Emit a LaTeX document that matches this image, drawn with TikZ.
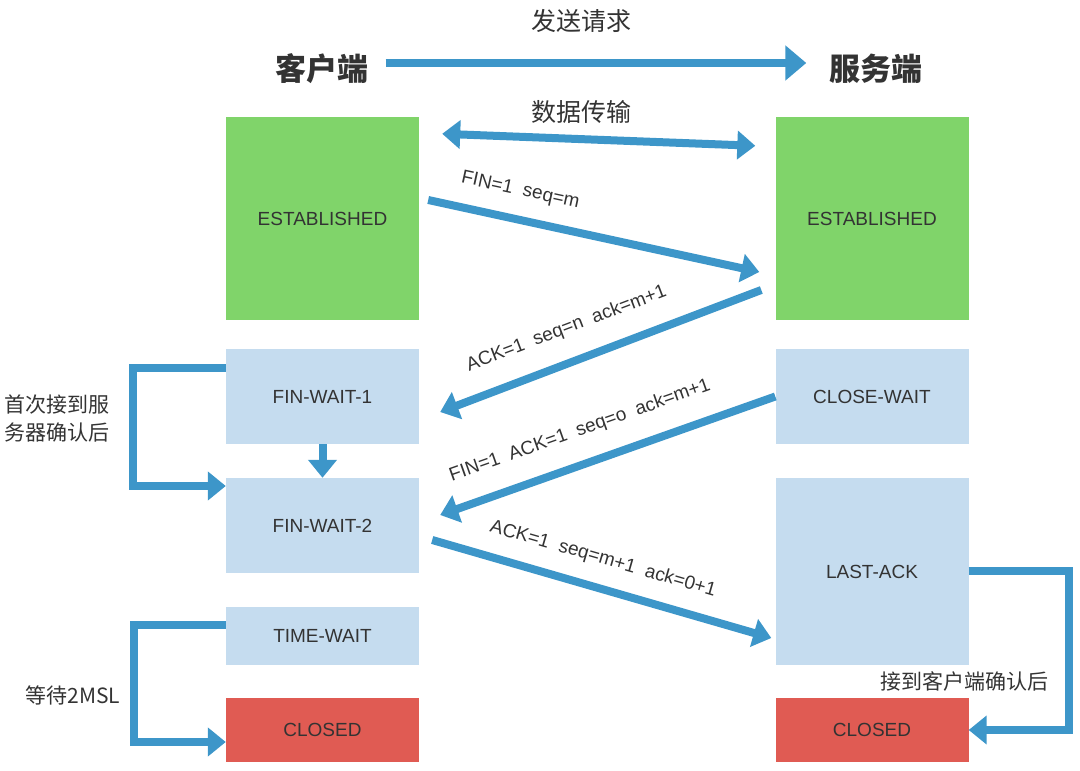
\documentclass[tikz,border=0pt]{standalone}
\usepackage{fontspec}
\setmainfont{Liberation Sans}
\newfontfamily\cjk{Noto Sans CJK SC}
\usepackage{tikz}
\usetikzlibrary{arrows.meta}
\definecolor{flowblue}{RGB}{61,150,201}
\definecolor{estgreen}{RGB}{128,212,106}
\definecolor{waitblue}{RGB}{197,220,239}
\definecolor{closedred}{RGB}{224,91,83}
\definecolor{labelgray}{RGB}{51,51,51}

\begin{document}
\begin{tikzpicture}[x=1pt, y=1pt,
    >={Triangle[width=28pt,length=18pt]},
    state/.style={minimum width=193pt, inner sep=0pt, text=labelgray, font=\fontsize{19}{22}\selectfont},
    flow/.style={draw=flowblue, line width=8pt, ->},
    msg/.style={sloped, inner sep=2pt, text=labelgray, font=\fontsize{19}{22}\selectfont},
    side/.style={inner sep=0pt, text=labelgray, font=\cjk\fontsize{21}{28}\selectfont}]
    \useasboundingbox (0,0) rectangle (1080,771);

    % Headers
    \node[inner sep=0pt, text=labelgray, font=\cjk\bfseries\fontsize{31}{34}\selectfont] (client) at (322,702) {客户端};
    \node[inner sep=0pt, text=labelgray, font=\cjk\bfseries\fontsize{31}{34}\selectfont] (server) at (876,702) {服务端};
    \draw[flow, -{Triangle[width=34pt,length=21pt]}] ([shift={(17,6)}]client.east) -- ([shift={(-23,6)}]server.west);
    \node[side, font=\cjk\fontsize{25}{28}\selectfont] (request) at (581,750) {发送请求};

    % States
    \node[state, fill=estgreen, minimum height=203pt] (cEst) at (322.5,552.5) {ESTABLISHED};
    \node[state, fill=estgreen, minimum height=203pt] (sEst) at (872,552.5) {ESTABLISHED};
    \node[state, fill=waitblue, minimum height=95pt] (fw1) at (322.5,374.5) {FIN-WAIT-1};
    \node[state, fill=waitblue, minimum height=95pt] (cw) at (872,374.5) {CLOSE-WAIT};
    \node[state, fill=waitblue, minimum height=95pt] (fw2) at (322.5,245.5) {FIN-WAIT-2};
    \node[state, fill=waitblue, minimum height=187pt] (la) at (872,199.5) {LAST-ACK};
    \node[state, fill=waitblue, minimum height=58pt] (tw) at (322.5,135) {TIME-WAIT};
    \node[state, fill=closedred, minimum height=64pt] (cc) at (322.5,41) {CLOSED};
    \node[state, fill=closedred, minimum height=64pt] (sc) at (872,41) {CLOSED};

    % Data transfer
    \draw[flow, <->] ([shift={(23,-17)}]cEst.north east) -- ([shift={(-20,-29)}]sEst.north west);
    \node[side, font=\cjk\fontsize{25}{28}\selectfont] (transfer) at (581,659) {数据传输};

    % Handshake messages
    \draw[flow] ([shift={(9,18.5)}]cEst.east) -- ([shift={(-16,-53.5)}]sEst.west)
        node[msg, pos=.26, above=14pt] {FIN=1~~seq=m};
    \draw[flow] ([shift={(-14,-71.5)}]sEst.west) -- ([shift={(21,-15.5)}]fw1.east)
        node[msg, pos=.57, above=18pt] {ACK=1~~seq=n~~ack=m+1};
    \draw[flow] (cw.west) -- ([shift={(21,10.5)}]fw2.east)
        node[msg, pos=.55, above=18pt] {FIN=1~~ACK=1~~seq=o~~ack=m+1};
    \draw[flow] ([shift={(13,-14.5)}]fw2.east) -- ([shift={(-4,-66.5)}]la.west)
        node[msg, pos=.48, above=14pt] {ACK=1~~seq=m+1~~ack=0+1};

    % Side transitions
    \draw[flow] (fw1) -- (fw2);
    \draw[flow] ([yshift=28.5pt]fw1.west) -- ++(-93,0) |- ([yshift=39.5pt]fw2.west);
    \node[side, align=center] (note1) at (57,352) {首次接到服\\务器确认后};
    \draw[flow] ([yshift=11pt]tw.west) -- ++(-92,0) |- ([yshift=-12pt]cc.west);
    \node[side] (note2) at (73,76) {等待2MSL};
    \draw[flow] (la.east) -- ++(100,0) |- (sc.east);
    \node[side] (note3) at (964,90) {接到客户端确认后};
\end{tikzpicture}
\end{document}
